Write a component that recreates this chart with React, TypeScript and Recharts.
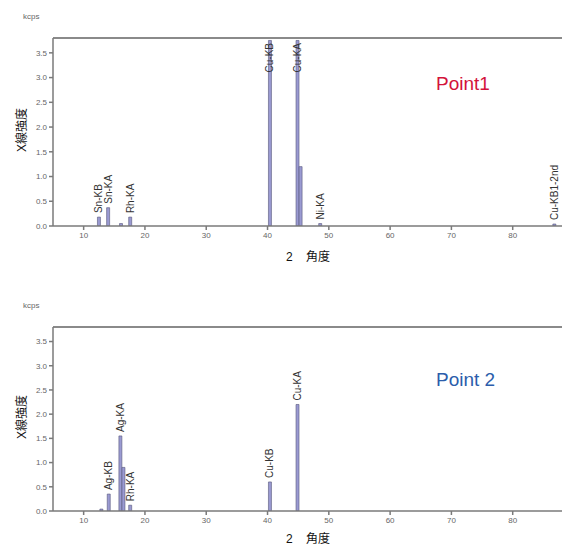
import React from "react";
import {
  ComposedChart,
  Bar,
  XAxis,
  YAxis,
  ReferenceLine,
  LabelList,
} from "recharts";

// peak positions (2θ, deg), heights (kcps) and line names
const point1Angles = [12.5, 14.0, 16.1, 17.6, 40.4, 44.9, 45.4, 48.6, 86.8];
const point1Kcps = [0.18, 0.37, 0.05, 0.18, 3.75, 3.75, 1.2, 0.05, 0.04];
const point1Names = ["Sn-KB", "Sn-KA", "", "Rh-KA", "Cu-KB", "Cu-KA", "", "Ni-KA", "Cu-KB1-2nd"];

const point2Angles = [12.9, 14.1, 16.0, 16.5, 17.6, 40.4, 44.9];
const point2Kcps = [0.04, 0.35, 1.55, 0.9, 0.12, 0.6, 2.2];
const point2Names = ["", "Ag-KB", "Ag-KA", "", "Rh-KA", "Cu-KB", "Cu-KA"];

const xTicks = [10, 20, 30, 40, 50, 60, 70, 80];
const yTicks = [0, 0.5, 1.0, 1.5, 2.0, 2.5, 3.0, 3.5];

const FONT = '"Liberation Sans", Arial, "Noto Sans CJK JP", sans-serif';
const PLOT_TOP = 38;

function makeRows(angles: number[], kcps: number[], names: string[]) {
  return angles.map((a, i) => ({ angle: a, kcps: kcps[i], label: names[i] }));
}

function PeakLabel(props: any) {
  const { x, y, width, value } = props;
  if (!value) return null;
  const fs = 10;
  const cx = Number(x) + Number(width) / 2;
  const len = String(value).length * fs * 0.62;
  let ty = Number(y) - 4;
  let anchor = "start";
  if (ty - len < PLOT_TOP + 4) {
    ty = PLOT_TOP + 5;
    anchor = "end";
  }
  return (
    <text
      x={cx}
      y={ty}
      transform={`rotate(-90, ${cx}, ${ty})`}
      textAnchor={anchor}
      dominantBaseline="central"
      fontSize={fs}
      fill="#333"
      fontFamily={FONT}
    >
      {value}
    </text>
  );
}

function Panel({
  top,
  plotHeight,
  rows,
  title,
  titleColor,
  titleTop,
  xLabelGap,
}: {
  top: number;
  plotHeight: number;
  rows: { angle: number; kcps: number; label: string }[];
  title: string;
  titleColor: string;
  titleTop: number;
  xLabelGap: number;
}) {
  const height = PLOT_TOP + plotHeight + 34;
  return (
    <div style={{ position: "absolute", left: 0, top, width: 562, height }}>
      <ComposedChart
        width={574}
        height={height}
        data={rows}
        margin={{ top: PLOT_TOP, right: 0, left: 23, bottom: 14 }}
      >
        <XAxis
          dataKey="angle"
          type="number"
          domain={[5, 90]}
          ticks={xTicks}
          allowDataOverflow
          height={20}
          tickSize={4}
          stroke="#7a7a7a"
          strokeWidth={1.5}
          tick={{ fontSize: 8, fill: "#666", fontFamily: FONT }}
        />
        <YAxis
          type="number"
          domain={[0, 3.8]}
          ticks={yTicks}
          allowDataOverflow
          width={30}
          tickSize={4}
          stroke="#7a7a7a"
          strokeWidth={1.5}
          tickFormatter={(v: number) => v.toFixed(1)}
          tick={{ fontSize: 8, fill: "#666", fontFamily: FONT }}
        />
        <ReferenceLine y={3.8} stroke="#8a8a8a" strokeWidth={2} />
        <Bar
          dataKey="kcps"
          barSize={3}
          fill="#9a9ad2"
          stroke="#55557a"
          strokeWidth={0.6}
          isAnimationActive={false}
        >
          <LabelList dataKey="label" content={<PeakLabel />} />
        </Bar>
      </ComposedChart>
      <div
        style={{
          position: "absolute",
          left: 23,
          top: PLOT_TOP - 26,
          fontSize: 8,
          color: "#666",
          fontFamily: FONT,
        }}
      >
        kcps
      </div>
      <div
        style={{
          position: "absolute",
          left: 20,
          top: PLOT_TOP + plotHeight / 2 - 2,
          transform: "translate(-50%, -50%) rotate(-90deg)",
          fontSize: 12,
          whiteSpace: "nowrap",
          fontFamily: FONT,
          color: "#111",
        }}
      >
        X線強度
      </div>
      <div
        style={{
          position: "absolute",
          left: 286,
          top: PLOT_TOP + plotHeight + xLabelGap,
          fontSize: 12,
          lineHeight: "14px",
          whiteSpace: "pre",
          fontFamily: FONT,
          color: "#111",
        }}
      >
        {"2    角度"}
      </div>
      <div
        style={{
          position: "absolute",
          left: 436,
          top: titleTop,
          fontSize: 19,
          color: titleColor,
          fontFamily: FONT,
        }}
      >
        {title}
      </div>
    </div>
  );
}

export default function App() {
  return (
    <div
      style={{
        position: "absolute",
        left: 0,
        top: 0,
        width: 562,
        height: 548,
        overflow: "hidden",
        background: "#fff",
      }}
    >
      <Panel
        top={0}
        plotHeight={188}
        rows={makeRows(point1Angles, point1Kcps, point1Names)}
        title="Point1"
        titleColor="#d3123a"
        titleTop={73}
        xLabelGap={24}
      />
      <Panel
        top={289}
        plotHeight={184}
        rows={makeRows(point2Angles, point2Kcps, point2Names)}
        title="Point 2"
        titleColor="#2c5dab"
        titleTop={80}
        xLabelGap={21}
      />
    </div>
  );
}
